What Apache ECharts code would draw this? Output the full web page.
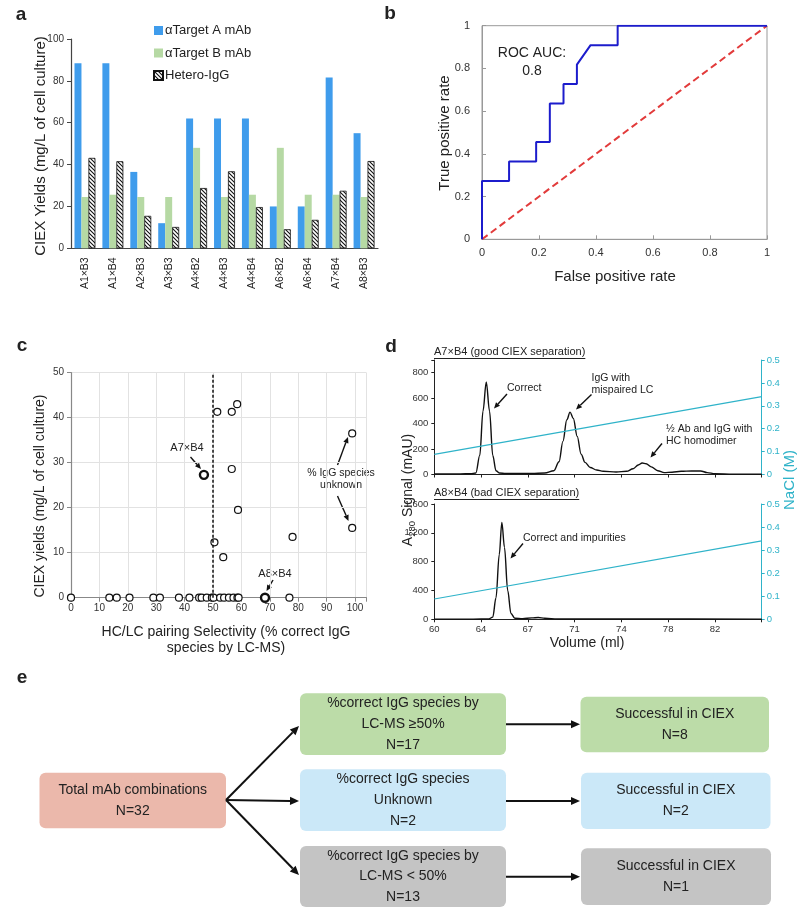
<!DOCTYPE html>
<html><head><meta charset="utf-8">
<script src="https://cdn.jsdelivr.net/npm/echarts@6/dist/echarts.min.js"></script>
<style>html,body{margin:0;padding:0;background:#fff}#c{width:800px;height:908px}</style>
</head><body><div id="c"></div>
<script>
const FONT = '"Liberation Sans", Arial, Helvetica, sans-serif';

// ---------- Panel a data ----------
const combos = ['A1×B3','A1×B4','A2×B3','A3×B3','A4×B2','A4×B3','A4×B4','A6×B2','A6×B4','A7×B4','A8×B3'];
const targetA = [88.4, 88.4, 36.5, 12, 62, 62, 62, 20, 20, 81.6, 55];
const targetB = [24.5, 25.6, 24.5, 24.5, 48, 24.5, 25.6, 48, 25.6, 25.6, 24.5];
const heteroIgG = [43.2, 41.6, 15.5, 10.2, 28.8, 36.8, 19.7, 9.1, 13.6, 27.5, 41.7];
const yTicksA = [0, 20, 40, 60, 80, 100];

// ---------- Panel b data ----------
const fpr = [0, 0, 0.095, 0.095, 0.19, 0.19, 0.238, 0.238, 0.286, 0.286, 0.333, 0.333, 0.381, 0.476, 0.476, 1];
const tpr = [0, 0.273, 0.273, 0.364, 0.364, 0.455, 0.455, 0.636, 0.636, 0.727, 0.727, 0.818, 0.909, 0.909, 1, 1];
const chanceX = [0, 1];
const chanceY = [0, 1];

// ---------- Panel c data ----------
const cSel   = [0, 13.5, 16.1, 20.6, 29, 31.3, 38, 41.7, 45.1, 46, 47.8, 49.6,
                50.2, 52.5, 53.9, 55.6, 57.2, 58.6, 59, 76.9,
                51.5, 56.6, 58.5, 56.6, 58.8, 50.5, 53.6, 78,
                99, 99];
const cYield = [0, 0, 0, 0, 0, 0, 0, 0, 0, 0, 0, 0,
                0, 0, 0, 0, 0, 0, 0, 0,
                41.3, 41.3, 43, 28.6, 19.5, 12.3, 9, 13.5,
                36.5, 15.5];
const hlNames = ['A7×B4', 'A8×B4'];
const hlSel   = [46.8, 68.3];
const hlYield = [27.3, 0];
const selCutoff = 50;

// ---------- Panel d data ----------
const topVol    = [60, 61, 62, 62.8, 63.2, 63.5, 63.75, 64.0, 64.25, 64.5, 64.75, 65.0, 65.5, 66.5, 67.5, 68.5, 69.2, 69.6, 69.9, 70.2, 70.45, 70.7, 71.0, 71.3, 71.6, 72.0, 72.5, 73.0, 74.0, 74.8, 75.3, 75.7, 76.0, 76.3, 76.7, 77.2, 77.7, 78.3, 79.0, 79.8, 80.5, 81.0, 81.6, 83, 85.2];
const topSignal = [5, 5, 5, 6, 12, 150, 500, 728, 500, 150, 30, 12, 8, 8, 8, 12, 30, 100, 260, 430, 490, 440, 300, 160, 95, 55, 35, 25, 20, 25, 45, 75, 90, 85, 60, 30, 15, 18, 25, 28, 28, 15, 6, 3, 3];
const botVol    = [60, 63, 64.2, 64.5, 64.75, 65.0, 65.2, 65.4, 65.65, 65.9, 66.2, 66.8, 67.5, 68.0, 68.5, 69.5, 72, 76, 85.2];
const botSignal = [3, 3, 5, 30, 300, 900, 1345, 1000, 400, 80, 15, 10, 20, 25, 15, 5, 5, 4, 3];
const naclVol   = [60, 85.2];
const naclConc  = [0.088, 0.34];

// ---------- helpers ----------
function zip(a, b) { return a.map((v, i) => [v, b[i]]); }
function hatch() {
  const c = document.createElement('canvas'); c.width = 4; c.height = 4;
  const g = c.getContext('2d');
  g.fillStyle = '#fff'; g.fillRect(0, 0, 4, 4);
  g.strokeStyle = '#111'; g.lineWidth = 1.1; g.beginPath();
  g.moveTo(0, 0); g.lineTo(4, 4); g.moveTo(-1, 3); g.lineTo(1, 5); g.moveTo(3, -1); g.lineTo(5, 1);
  g.stroke(); return c;
}
function arrow(x1, y1, x2, y2, w, hl) {
  w = w || 1.5; hl = hl || 7;
  const a = Math.atan2(y2 - y1, x2 - x1), hw = hl * 0.45;
  const bx = x2 - hl * Math.cos(a), by = y2 - hl * Math.sin(a);
  return [
    { type: 'line', shape: { x1, y1, x2: bx, y2: by }, style: { stroke: '#111', lineWidth: w } },
    { type: 'polygon', shape: { points: [[x2, y2], [bx + hw * Math.sin(a), by - hw * Math.cos(a)], [bx - hw * Math.sin(a), by + hw * Math.cos(a)]] }, style: { fill: '#111' } }
  ];
}
function txt(x, y, text, size, opt) {
  opt = opt || {};
  return { type: 'text', x, y, rotation: opt.rot || 0,
    style: { text, fontSize: size, fontFamily: FONT, fontWeight: opt.bold ? 'bold' : 'normal', fill: opt.color || '#222',
      align: opt.align || 'center', verticalAlign: 'middle', lineHeight: opt.lh || size * 1.2 } };
}
function measure(t, size) {
  const g = document.createElement('canvas').getContext('2d');
  g.font = size + 'px ' + FONT; return g.measureText(t).width;
}
const tick = { fontSize: 10, fontFamily: FONT, color: '#333' };
const CYAN = '#2fb3c9';

// ---------- graphic elements ----------
const G = [];
// panel letters
G.push(txt(21, 15, 'a', 19, { bold: true }), txt(390, 14, 'b', 19, { bold: true }),
       txt(22, 346, 'c', 19, { bold: true }), txt(391, 347, 'd', 19, { bold: true }),
       txt(22, 678, 'e', 19, { bold: true }));
// axis titles
G.push(txt(41, 146, 'CIEX Yields (mg/L of cell culture)', 15, { rot: Math.PI / 2 }));
G.push(txt(445, 133, 'True positive rate', 15, { rot: Math.PI / 2 }));
G.push(txt(615, 277, 'False positive rate', 15));
G.push(txt(532, 53, 'ROC AUC:', 14), txt(532, 71, '0.8', 14));
G.push(txt(40, 496, 'CIEX yields (mg/L of cell culture)', 14, { rot: Math.PI / 2 }));
G.push(txt(226, 640, 'HC/LC pairing Selectivity (% correct IgG\nspecies by LC-MS)', 14, { lh: 16 }));
// panel c annotations
G.push(txt(187, 448, hlNames[0], 11), ...arrow(190.5, 457, 201, 469, 1.4, 6));
G.push(txt(275, 574, hlNames[1], 11), ...arrow(273, 580, 266.5, 591, 1.4, 6));
G.push(txt(341, 479, '% IgG species\nunknown', 10.5, { lh: 12.5 }),
       ...arrow(337.5, 465, 348, 437, 1.4, 6), ...arrow(337.5, 496, 348.5, 521, 1.4, 6));
// panel d
const t1 = 'A7×B4 (good CIEX separation)', t2 = 'A8×B4 (bad CIEX separation)';
G.push(txt(434, 352, t1, 11, { align: 'left' }), txt(434, 493, t2, 11, { align: 'left' }));
G.push({ type: 'line', shape: { x1: 434, y1: 358.5, x2: 434 + measure(t1, 11), y2: 358.5 }, style: { stroke: '#222', lineWidth: 1 } });
G.push({ type: 'line', shape: { x1: 434, y1: 499.5, x2: 434 + measure(t2, 11), y2: 499.5 }, style: { stroke: '#222', lineWidth: 1 } });
// A280 Signal (mAU), rotated, with subscript
(function () {
  const sA = 'A', sSub = '280', sRest = ' Signal (mAU)';
  const wA = measure(sA, 14), wS = measure(sSub, 9.5), wR = measure(sRest, 14);
  const W = wA + wS + wR, cx = 408, y0 = 490 + W / 2;
  G.push(txt(cx, y0 - wA / 2, sA, 14, { rot: Math.PI / 2 }));
  G.push(txt(cx + 4, y0 - wA - wS / 2, sSub, 9.5, { rot: Math.PI / 2 }));
  G.push(txt(cx, y0 - wA - wS - wR / 2, sRest, 14, { rot: Math.PI / 2 }));
})();
G.push(txt(790, 480, 'NaCl (M)', 15, { rot: Math.PI / 2, color: CYAN }));
G.push(txt(587, 643, 'Volume (ml)', 14));
G.push(txt(507, 388, 'Correct', 10.5, { align: 'left' }), ...arrow(507, 394, 494, 408.5, 1.4, 6));
G.push(txt(591.5, 384, 'IgG with\nmispaired LC', 10.5, { align: 'left', lh: 11.5 }), ...arrow(591.5, 394.5, 576, 409.5, 1.4, 6));
G.push(txt(666, 435, '½ Ab and IgG with\nHC homodimer', 10.5, { align: 'left', lh: 12.5 }), ...arrow(662, 443.5, 650.5, 457.5, 1.4, 6));
G.push(txt(523, 538, 'Correct and impurities', 10.5, { align: 'left' }), ...arrow(523, 543.5, 510.5, 558.5, 1.4, 6));
// panel e
const boxes = [
  [39.5, 772.7, 186.5, 55.6, '#ebb8ab', 'Total mAb combinations\nN=32'],
  [300, 693.3, 206, 61.7, '#bcdca8', '%correct IgG species by\nLC-MS ≥50%\nN=17'],
  [300, 769.3, 206, 61.7, '#cbe8f8', '%correct IgG species\nUnknown\nN=2'],
  [300, 846, 206, 61, '#c4c4c4', '%correct IgG species by\nLC-MS < 50%\nN=13'],
  [580.5, 696.7, 188.5, 55.6, '#bcdca8', 'Successful in CIEX\nN=8'],
  [581, 772.7, 189.5, 56.3, '#cbe8f8', 'Successful in CIEX\nN=2'],
  [581, 848.3, 190, 56.7, '#c4c4c4', 'Successful in CIEX\nN=1']
];
boxes.forEach(b => {
  G.push({ type: 'rect', shape: { x: b[0], y: b[1], width: b[2], height: b[3], r: 6 }, style: { fill: b[4] } });
  G.push(txt(b[0] + b[2] / 2, b[1] + b[3] / 2, b[5], 14, { lh: 20.6, color: '#222' }));
});
G.push(...arrow(226, 800, 299, 726, 2, 9), ...arrow(226, 800, 299, 801, 2, 9), ...arrow(226, 800, 299, 875, 2, 9));
G.push(...arrow(506, 724.3, 580, 724.3, 2, 9), ...arrow(506, 801, 580, 801, 2, 9), ...arrow(506, 876.7, 580, 876.7, 2, 9));

// ---------- chart ----------
const chart = echarts.init(document.getElementById('c'), null, { renderer: 'canvas' });
const hatchImg = hatch();
const option = {
  animation: false,
  backgroundColor: '#fff',
  textStyle: { fontFamily: FONT },
  legend: {
    data: ['αTarget A mAb', 'αTarget B mAb', 'Hetero-IgG'], orient: 'vertical', left: 148, top: 19,
    itemWidth: 9, itemHeight: 9, itemGap: 9.5, icon: 'rect',
    textStyle: { fontSize: 13, fontFamily: FONT, color: '#222', padding: [0, 0, 0, -3] }
  },
  grid: [
    { left: 71, top: 39, width: 307, height: 209.3 },
    { left: 482, top: 25.7, width: 285, height: 213.6, show: true, borderColor: '#999', borderWidth: 1, backgroundColor: 'transparent' },
    { left: 71, top: 372.7, width: 295.4, height: 225 },
    { left: 434.3, top: 360, width: 327.4, height: 114.5 },
    { left: 434.3, top: 504, width: 327.4, height: 115.3 }
  ],
  xAxis: [
    { type: 'category', gridIndex: 0, data: combos, axisTick: { show: false },
      axisLine: { lineStyle: { color: '#444', width: 1.2 } },
      axisLabel: { rotate: 90, fontSize: 10.5, fontFamily: FONT, color: '#222', margin: 9, interval: 0 } },
    { type: 'value', gridIndex: 1, min: 0, max: 1, interval: 0.2, splitLine: { show: false },
      axisLine: { lineStyle: { color: '#999' } }, axisTick: { inside: true, length: 4, lineStyle: { color: '#999' } },
      axisLabel: { fontSize: 11, fontFamily: FONT, color: '#333', margin: 8 } },
    { type: 'value', gridIndex: 2, min: 0, max: 104, interval: 10,
      splitLine: { lineStyle: { color: '#e2e2e2' } },
      axisLine: { lineStyle: { color: '#888', width: 1.2 } }, axisTick: { length: 4, lineStyle: { color: '#888' } },
      axisLabel: { ...tick, margin: 6, formatter: v => v > 100 ? '' : v } },
    { type: 'value', gridIndex: 3, min: 60, max: 85.2, interval: 3.6, splitLine: { show: false },
      axisLine: { lineStyle: { color: '#222' } }, axisTick: { length: 3, lineStyle: { color: '#222' } },
      axisLabel: { show: false } },
    { type: 'value', gridIndex: 4, min: 60, max: 85.2, interval: 3.6, splitLine: { show: false },
      axisLine: { lineStyle: { color: '#222' } }, axisTick: { length: 3, lineStyle: { color: '#222' } },
      axisLabel: { fontSize: 9.5, fontFamily: FONT, color: '#333', margin: 5, formatter: v => v > 84 ? '' : Math.round(v) } }
  ],
  yAxis: [
    { type: 'value', gridIndex: 0, min: yTicksA[0], max: yTicksA[yTicksA.length - 1], interval: 20, splitLine: { show: false },
      axisLine: { show: true, lineStyle: { color: '#444', width: 1.2 } }, axisTick: { show: true, length: 4, lineStyle: { color: '#444' } },
      axisLabel: { ...tick, margin: 7 } },
    { type: 'value', gridIndex: 1, min: 0, max: 1, interval: 0.2, splitLine: { show: false },
      axisLine: { show: true, lineStyle: { color: '#999' } }, axisTick: { show: true, inside: true, length: 4, lineStyle: { color: '#999' } },
      axisLabel: { fontSize: 11, fontFamily: FONT, color: '#333', margin: 12 } },
    { type: 'value', gridIndex: 2, min: 0, max: 50, interval: 10,
      splitLine: { lineStyle: { color: '#e2e2e2' } },
      axisLine: { show: true, lineStyle: { color: '#888', width: 1.2 } }, axisTick: { show: true, length: 4, lineStyle: { color: '#888' } },
      axisLabel: { ...tick, margin: 7 } },
    { type: 'value', gridIndex: 3, min: 0, max: 900, interval: 200, splitLine: { show: false },
      axisLine: { show: true, lineStyle: { color: '#222' } }, axisTick: { show: true, length: 3, lineStyle: { color: '#222' } },
      axisLabel: { fontSize: 9.5, fontFamily: FONT, color: '#333', margin: 6, formatter: v => v > 800 ? '' : v } },
    { type: 'value', gridIndex: 3, position: 'right', min: 0, max: 0.5, interval: 0.1, splitLine: { show: false },
      axisLine: { show: true, lineStyle: { color: CYAN } }, axisTick: { show: true, length: 3, lineStyle: { color: CYAN } },
      axisLabel: { fontSize: 9.5, fontFamily: FONT, color: CYAN, margin: 5 } },
    { type: 'value', gridIndex: 4, min: 0, max: 1600, interval: 400, splitLine: { show: false },
      axisLine: { show: true, lineStyle: { color: '#222' } }, axisTick: { show: true, length: 3, lineStyle: { color: '#222' } },
      axisLabel: { fontSize: 9.5, fontFamily: FONT, color: '#333', margin: 6 } },
    { type: 'value', gridIndex: 4, position: 'right', min: 0, max: 0.5, interval: 0.1, splitLine: { show: false },
      axisLine: { show: true, lineStyle: { color: CYAN } }, axisTick: { show: true, length: 3, lineStyle: { color: CYAN } },
      axisLabel: { fontSize: 9.5, fontFamily: FONT, color: CYAN, margin: 5 } }
  ],
  series: [
    { name: 'αTarget A mAb', type: 'bar', xAxisIndex: 0, yAxisIndex: 0, data: targetA, barGap: '0%', barCategoryGap: '25%',
      itemStyle: { color: '#3f9cec' } },
    { name: 'αTarget B mAb', type: 'bar', xAxisIndex: 0, yAxisIndex: 0, data: targetB,
      itemStyle: { color: '#b6d9a4' } },
    { name: 'Hetero-IgG', type: 'bar', xAxisIndex: 0, yAxisIndex: 0, data: heteroIgG,
      itemStyle: { color: { image: hatchImg, repeat: 'repeat' }, borderColor: '#111', borderWidth: 0.8 } },
    { type: 'line', xAxisIndex: 1, yAxisIndex: 1, data: zip(fpr, tpr), symbol: 'none',
      lineStyle: { color: '#1c1ccc', width: 2 }, z: 5 },
    { type: 'line', xAxisIndex: 1, yAxisIndex: 1, data: zip(chanceX, chanceY), symbol: 'none',
      lineStyle: { color: '#e23b3b', width: 2, type: [7, 4] } },
    { type: 'scatter', xAxisIndex: 2, yAxisIndex: 2, data: zip(cSel, cYield), symbol: 'circle', symbolSize: 7,
      itemStyle: { color: '#fff', borderColor: '#111', borderWidth: 1.2, opacity: 1 }, z: 4,
      markLine: { silent: true, symbol: 'none', label: { show: false },
        lineStyle: { color: '#111', type: [3, 2], width: 1.5 }, data: [{ xAxis: selCutoff }] } },
    { type: 'scatter', xAxisIndex: 2, yAxisIndex: 2, data: zip(hlSel, hlYield), symbol: 'circle', symbolSize: 8,
      itemStyle: { color: '#fff', borderColor: '#111', borderWidth: 2.4, opacity: 1 }, z: 5 },
    { type: 'line', xAxisIndex: 3, yAxisIndex: 3, data: zip(topVol, topSignal), symbol: 'none', smooth: 0.35, smoothMonotone: 'x',
      lineStyle: { color: '#111', width: 1.4 } },
    { type: 'line', xAxisIndex: 3, yAxisIndex: 4, data: zip(naclVol, naclConc), symbol: 'none',
      lineStyle: { color: CYAN, width: 1.2 } },
    { type: 'line', xAxisIndex: 4, yAxisIndex: 5, data: zip(botVol, botSignal), symbol: 'none', smooth: 0.35, smoothMonotone: 'x',
      lineStyle: { color: '#111', width: 1.4 } },
    { type: 'line', xAxisIndex: 4, yAxisIndex: 6, data: zip(naclVol, naclConc), symbol: 'none',
      lineStyle: { color: CYAN, width: 1.2 } }
  ],
  graphic: { elements: G }
};
chart.setOption(option);
</script></body></html>
